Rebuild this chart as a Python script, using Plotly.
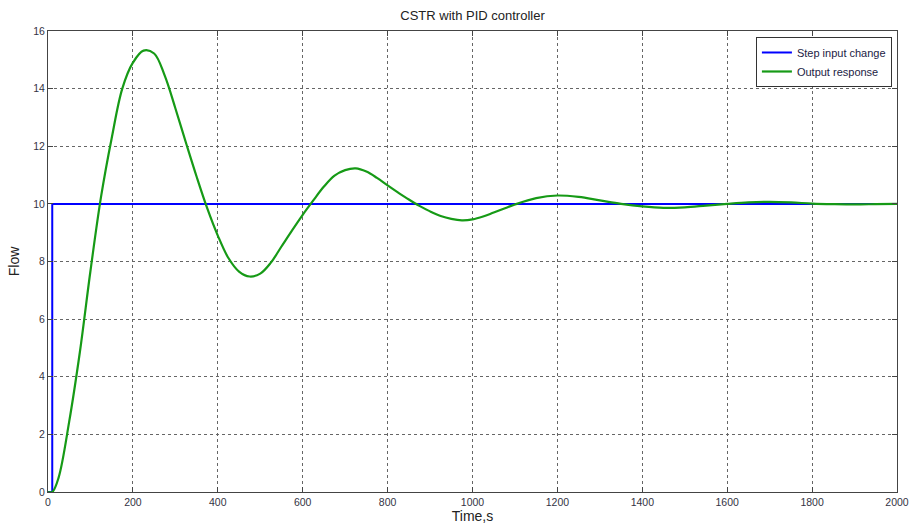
import plotly.graph_objects as go

# Step input
step_t = [0, 10, 10, 2000]
step_v = [0, 0, 10, 10]

# Output response
out_t = [0, 10, 25, 50, 75, 100, 125, 150, 175, 200, 225, 250, 275, 300, 325, 350, 375,
         400, 425, 450, 475, 500, 525, 550, 575, 600, 625, 650, 675, 700, 725, 750, 775,
         800, 825, 850, 875, 900, 925, 950, 975, 1000, 1025, 1050, 1075, 1100, 1150, 1200, 1250, 1300,
         1350, 1400, 1450, 1500, 1550, 1600, 1650, 1700, 1750, 1800, 1850, 1900, 1950, 2000]
out_v = [0, 0, 0.5, 2.45, 4.85, 7.67, 10.25, 12.28, 14.0, 14.9, 15.32, 15.22, 14.45, 13.32, 12.12, 10.95, 9.85,
         8.9, 8.12, 7.65, 7.48, 7.58, 7.96, 8.52, 9.08, 9.62, 10.12, 10.6, 10.98, 11.17, 11.23, 11.12, 10.9,
         10.64, 10.39, 10.15, 9.93, 9.74, 9.58, 9.48, 9.43, 9.46, 9.56, 9.7, 9.84, 9.98, 10.2, 10.29, 10.24, 10.12,
         10.0, 9.91, 9.86, 9.88, 9.94, 10.0, 10.05, 10.07, 10.05, 10.01, 9.99, 9.98, 9.99, 10.0]

x_ticks = [0, 200, 400, 600, 800, 1000, 1200, 1400, 1600, 1800, 2000]
y_ticks = [0, 2, 4, 6, 8, 10, 12, 14, 16]

FONT = "Arial, Liberation Sans, sans-serif"

fig = go.Figure()
fig.add_trace(go.Scatter(x=step_t, y=step_v, mode="lines", name="Step input change",
                         line=dict(color="#0000ff", width=2)))
fig.add_trace(go.Scatter(x=out_t, y=out_v, mode="lines", name="Output response",
                         line=dict(color="#169a16", width=2.2, shape="spline", smoothing=1.0)))

axis_common = dict(showline=True, linecolor="#444444", linewidth=1, mirror="ticks",
                   ticks="inside", ticklen=5, tickcolor="#444444",
                   showgrid=True, gridcolor="#666666", griddash="dot", gridwidth=1,
                   zeroline=False, ticklabeloverflow="allow", automargin=False,
                   tickfont=dict(family=FONT, size=10.5, color="#333344"))

fig.update_xaxes(range=[0, 2000], tickvals=x_ticks, **axis_common,
                 title=dict(text="Time,s", font=dict(family=FONT, size=14, color="#222222"), standoff=2))
fig.update_yaxes(range=[0, 16], tickvals=y_ticks, **axis_common,
                 title=dict(text="Flow", font=dict(family=FONT, size=14, color="#222222"), standoff=10))

fig.update_layout(
    width=909, height=527,
    margin=dict(l=48, r=12, t=31, b=35, autoexpand=False),
    paper_bgcolor="white", plot_bgcolor="white",
    title=dict(text="CSTR with PID controller", x=0.5, xref="paper", xanchor="center",
               y=0.97, yanchor="middle",
               font=dict(family=FONT, size=13, color="#222222")),
    legend=dict(x=0.994, y=0.987, xanchor="right", yanchor="top",
                bgcolor="white", bordercolor="#333333", borderwidth=1,
                font=dict(family=FONT, size=11, color="#222244"),
                tracegroupgap=0, itemwidth=30),
    showlegend=True,
)

fig.write_html("out.html")
